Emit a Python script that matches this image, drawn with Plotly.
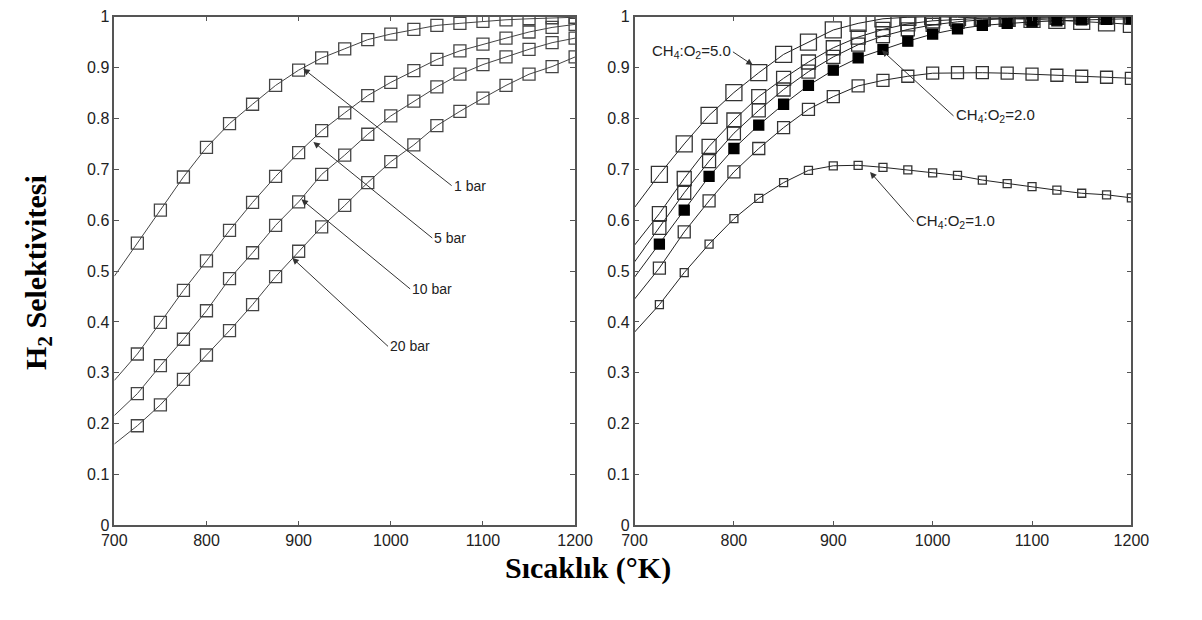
import plotly.graph_objects as go

# ---------------- data ----------------
T_line = [700, 725, 750, 775, 800, 825, 850, 875, 900, 925, 950, 975, 1000,
          1025, 1050, 1075, 1100, 1125, 1150, 1175, 1200]

# Left panel: pressure series
p_1bar = [0.49, 0.555, 0.62, 0.685, 0.743, 0.790, 0.828, 0.865, 0.895, 0.919, 0.937,
          0.955, 0.966, 0.975, 0.983, 0.987, 0.991, 0.994, 0.996, 0.998, 0.999]
p_5bar = [0.285, 0.337, 0.399, 0.462, 0.520, 0.580, 0.635, 0.686, 0.733, 0.776, 0.811,
          0.845, 0.871, 0.894, 0.916, 0.933, 0.946, 0.958, 0.970, 0.979, 0.985]
p_10bar = [0.216, 0.259, 0.314, 0.366, 0.422, 0.485, 0.536, 0.590, 0.636, 0.690, 0.728,
           0.769, 0.805, 0.834, 0.862, 0.887, 0.906, 0.921, 0.936, 0.949, 0.958]
p_20bar = [0.160, 0.196, 0.237, 0.287, 0.335, 0.383, 0.434, 0.489, 0.539, 0.587, 0.629,
           0.674, 0.715, 0.748, 0.786, 0.814, 0.840, 0.865, 0.887, 0.902, 0.921]

# Right panel: CH4:O2 ratio series
r_50 = [0.625, 0.690, 0.750, 0.806, 0.851, 0.890, 0.926, 0.950, 0.974, 0.987, 0.996,
        0.999, 1.000, 0.999, 0.998, 0.997, 0.995, 0.993, 0.991, 0.988, 0.985]
r_B = [0.551, 0.613, 0.682, 0.745, 0.797, 0.843, 0.879, 0.911, 0.939, 0.960, 0.975,
       0.986, 0.992, 0.995, 0.997, 0.998, 0.999, 0.999, 1.000, 1.000, 1.000]
r_C = [0.518, 0.585, 0.654, 0.716, 0.771, 0.816, 0.857, 0.892, 0.921, 0.945, 0.962,
       0.975, 0.984, 0.990, 0.994, 0.996, 0.997, 0.998, 0.999, 0.999, 0.999]
r_20 = [0.488, 0.553, 0.620, 0.686, 0.741, 0.787, 0.828, 0.865, 0.895, 0.919, 0.936,
        0.952, 0.966, 0.976, 0.983, 0.987, 0.990, 0.992, 0.994, 0.995, 0.996]
r_E = [0.445, 0.506, 0.577, 0.638, 0.695, 0.741, 0.782, 0.818, 0.843, 0.864, 0.875,
       0.883, 0.889, 0.890, 0.890, 0.889, 0.887, 0.885, 0.883, 0.881, 0.879]
r_10 = [0.380, 0.434, 0.497, 0.553, 0.603, 0.643, 0.674, 0.698, 0.707, 0.708, 0.704,
        0.699, 0.693, 0.688, 0.679, 0.672, 0.666, 0.659, 0.653, 0.650, 0.644]

x_ticks = [700, 800, 900, 1000, 1100, 1200]
y_ticks = [0, 0.1, 0.2, 0.3, 0.4, 0.5, 0.6, 0.7, 0.8, 0.9, 1]
y_ticktext = ["0", "0.1", "0.2", "0.3", "0.4", "0.5", "0.6", "0.7", "0.8", "0.9", "1"]

left_series = [p_1bar, p_5bar, p_10bar, p_20bar]
right_series = [
    (r_50, "square-open", 16, "#333"),
    (r_B, "square-open", 14, "#333"),
    (r_C, "square-open", 13, "#333"),
    (r_20, "square", 10, "#000"),
    (r_E, "square-open", 12, "#333"),
    (r_10, "square-open", 8, "#333"),
]

fig = go.Figure()

for ys in left_series:
    fig.add_trace(go.Scatter(x=T_line, y=ys, mode="lines", line=dict(color="#444", width=1),
                             xaxis="x", yaxis="y", showlegend=False, hoverinfo="skip"))
    fig.add_trace(go.Scatter(x=T_line[1:], y=ys[1:], mode="markers",
                             marker=dict(symbol="square-open", size=12, color="#444",
                                         line=dict(color="#444", width=1.3)),
                             xaxis="x", yaxis="y", showlegend=False))

for ys, sym, sz, col in right_series:
    fig.add_trace(go.Scatter(x=T_line, y=ys, mode="lines", line=dict(color="#222", width=1),
                             xaxis="x2", yaxis="y2", showlegend=False, hoverinfo="skip"))
    fig.add_trace(go.Scatter(x=T_line[1:], y=ys[1:], mode="markers",
                             marker=dict(symbol=sym, size=sz, color=col,
                                         line=dict(color=col, width=1.3)),
                             xaxis="x2", yaxis="y2", showlegend=False))

tickfont = dict(family="Liberation Sans, Arial, sans-serif", size=16, color="#222")
ax_common = dict(range=[700, 1200], tickvals=x_ticks, ticks="inside", ticklen=5,
                 showline=True, linecolor="#555", linewidth=1.5, mirror="ticks",
                 showgrid=False, zeroline=False, tickfont=tickfont, tickcolor="#555")
ay_common = dict(range=[0, 1], tickvals=y_ticks, ticktext=y_ticktext, ticks="inside",
                 ticklen=5, showline=True, linecolor="#555", linewidth=1.5, mirror="ticks",
                 showgrid=False, zeroline=False, tickfont=tickfont, tickcolor="#555",
                 domain=[0.1419, 0.9855])

fig.update_layout(
    width=1202, height=620,
    margin=dict(l=0, r=0, t=0, b=0),
    paper_bgcolor="white", plot_bgcolor="white",
    xaxis=dict(domain=[104 / 1202, 577 / 1202], anchor="y", **ax_common),
    yaxis=dict(anchor="x", **ay_common),
    xaxis2=dict(domain=[638 / 1202, 1148 / 1202], anchor="y2", **ax_common),
    yaxis2=dict(anchor="x2", **ay_common),
)

lab_font_l = dict(family="Liberation Sans, Arial, sans-serif", size=14, color="#222")
lab_font_r = dict(family="Liberation Sans, Arial, sans-serif", size=15, color="#222")

# labelled arrows: (text, head_x, head_y, tail_x, tail_y, xref, yref, anchor, font)
arrow_labels = [
    ("1 bar", 905, 0.898, 1066, 0.668, "x", "y", "left", lab_font_l),
    ("5 bar", 916, 0.754, 1045, 0.565, "x", "y", "left", lab_font_l),
    ("10 bar", 903, 0.641, 1021, 0.465, "x", "y", "left", lab_font_l),
    ("20 bar", 893, 0.526, 997, 0.352, "x", "y", "left", lab_font_l),
    ("CH<sub>4</sub>:O<sub>2</sub>=5.0", 819, 0.905, 799, 0.931, "x2", "y2", "right", lab_font_r),
    ("CH<sub>4</sub>:O<sub>2</sub>=2.0", 949, 0.934, 1021, 0.805, "x2", "y2", "left", lab_font_r),
    ("CH<sub>4</sub>:O<sub>2</sub>=1.0", 937, 0.695, 981, 0.597, "x2", "y2", "left", lab_font_r),
]
for txt, hx, hy, tx, ty, xr, yr, anc, fnt in arrow_labels:
    fig.add_annotation(x=hx, y=hy, ax=tx, ay=ty, xref=xr, yref=yr, axref=xr, ayref=yr,
                       text=txt, showarrow=True, arrowhead=2, arrowsize=1.3,
                       arrowwidth=1, arrowcolor="#333", standoff=0,
                       xanchor=anc, yanchor="middle", font=fnt)

title_font = dict(family="Liberation Serif, Times New Roman, serif", size=30, color="#000")
fig.add_annotation(x=590 / 1202, y=1 - 576 / 620, xref="paper", yref="paper",
                   text="<b>Sıcaklık (°K)</b>", showarrow=False, font=title_font,
                   xanchor="center", yanchor="middle")
fig.add_annotation(x=25 / 1202, y=1 - 272 / 620, xref="paper", yref="paper",
                   text="<b>H<sub>2</sub> Selektivitesi</b>", showarrow=False, font=title_font,
                   textangle=-90, xanchor="center", yanchor="middle")

fig.write_html("out.html")
